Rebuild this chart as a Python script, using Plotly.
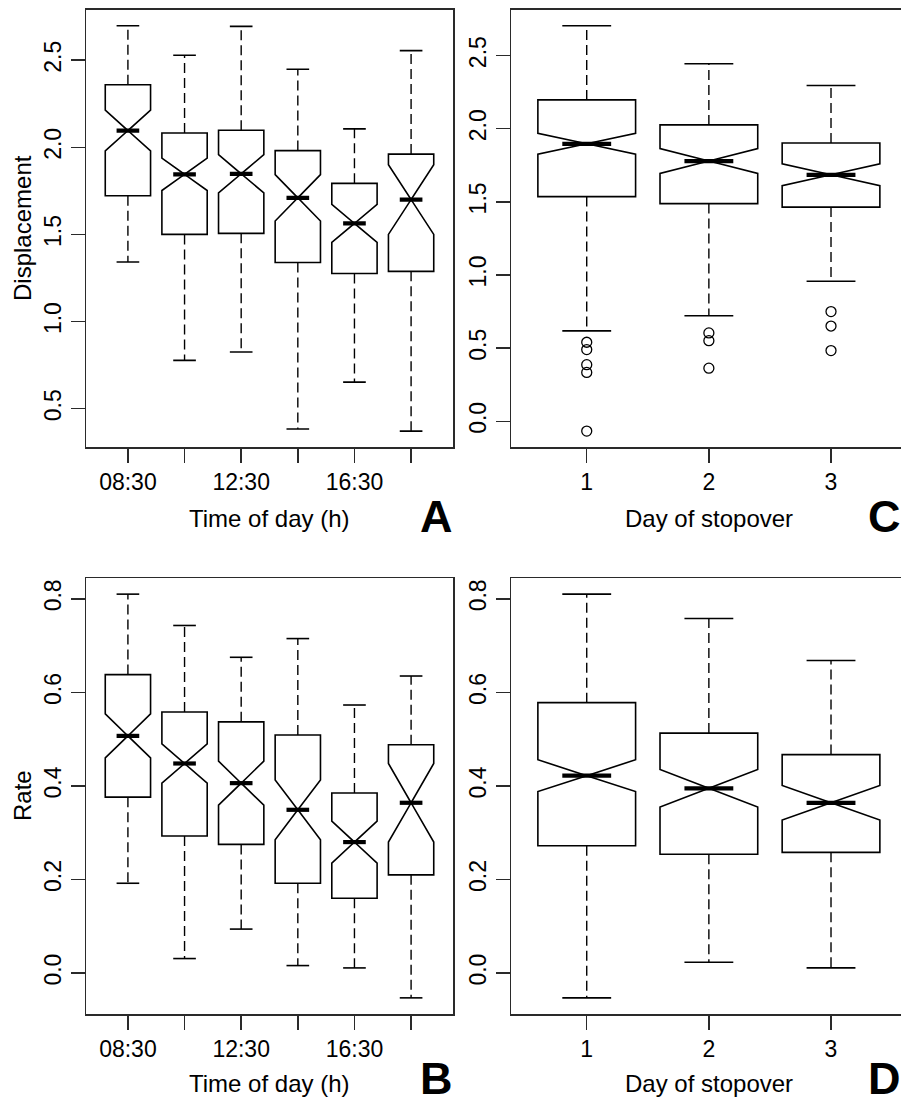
import plotly.graph_objects as go

# ---------------- data ----------------
times = ["08:30", "10:30", "12:30", "14:30", "16:30", "18:30"]
time_labels = ["08:30", "", "12:30", "", "16:30", ""]
days = ["1", "2", "3"]

# Panel A: Displacement by time of day
A_upper = [2.698, 2.528, 2.694, 2.448, 2.106, 2.555]
A_q3 = [2.359, 2.082, 2.098, 1.981, 1.793, 1.961]
A_med = [2.096, 1.845, 1.848, 1.710, 1.563, 1.700]
A_q1 = [1.722, 1.500, 1.506, 1.339, 1.276, 1.288]
A_lower = [1.342, 0.777, 0.825, 0.383, 0.652, 0.371]
A_notch = [0.117, 0.093, 0.110, 0.133, 0.109, 0.200]

# Panel C: Displacement by day of stopover
C_upper = [2.704, 2.444, 2.295]
C_q3 = [2.197, 2.026, 1.902]
C_med = [1.897, 1.779, 1.685]
C_q1 = [1.536, 1.488, 1.464]
C_lower = [0.618, 0.721, 0.957]
C_notch = [0.071, 0.085, 0.075]
C_outliers = [[0.540, 0.490, 0.387, 0.334, -0.067],
              [0.604, 0.551, 0.363],
              [0.750, 0.651, 0.483]]

# Panel B: Rate by time of day
B_upper = [0.810, 0.743, 0.675, 0.715, 0.573, 0.635]
B_q3 = [0.638, 0.558, 0.537, 0.509, 0.385, 0.488]
B_med = [0.507, 0.448, 0.406, 0.349, 0.280, 0.364]
B_q1 = [0.376, 0.293, 0.275, 0.192, 0.160, 0.210]
B_lower = [0.192, 0.031, 0.094, 0.016, 0.011, -0.053]
B_notch = [0.047, 0.042, 0.047, 0.064, 0.045, 0.084]

# Panel D: Rate by day of stopover
D_upper = [0.810, 0.758, 0.668]
D_q3 = [0.578, 0.513, 0.467]
D_med = [0.422, 0.395, 0.364]
D_q1 = [0.272, 0.254, 0.258]
D_lower = [-0.053, 0.023, 0.011]
D_notch = [0.034, 0.040, 0.037]

# ---------------- styling ----------------
W, H = 901, 1104
FONT = "Liberation Sans, Arial, Helvetica, sans-serif"
INK = "black"
FRAME = "#2a2a2a"
BOXW = 0.8
HALF_CAP = BOXW / 4  # staple = half the box width

fig = go.Figure()


def add_panel(xa, ya, upper, q3, med, q1, lower, notch, outliers=None):
    n = len(med)
    pos = list(range(1, n + 1))
    # dashed whiskers
    wx, wy = [], []
    for i in range(n):
        wx += [pos[i], pos[i], None, pos[i], pos[i], None]
        wy += [q3[i], upper[i], None, q1[i], lower[i], None]
    fig.add_trace(go.Scatter(x=wx, y=wy, mode="lines", xaxis=xa, yaxis=ya,
                             line=dict(color=INK, width=1.4, dash="10px,5px"),
                             hoverinfo="skip", showlegend=False))
    # whisker staples
    sx, sy = [], []
    for i in range(n):
        sx += [pos[i] - HALF_CAP, pos[i] + HALF_CAP, None,
               pos[i] - HALF_CAP, pos[i] + HALF_CAP, None]
        sy += [upper[i], upper[i], None, lower[i], lower[i], None]
    fig.add_trace(go.Scatter(x=sx, y=sy, mode="lines", xaxis=xa, yaxis=ya,
                             line=dict(color=INK, width=1.6),
                             hoverinfo="skip", showlegend=False))
    # notched boxes
    fig.add_trace(go.Box(x=pos, q1=q1, median=med, q3=q3,
                         lowerfence=q1, upperfence=q3, notchspan=notch,
                         notched=True, notchwidth=0.5, width=BOXW,
                         whiskerwidth=0, boxpoints=False,
                         fillcolor="white", line=dict(color=INK, width=1.6),
                         xaxis=xa, yaxis=ya, showlegend=False, hoverinfo="skip"))
    # thick medians
    mx, my = [], []
    for i in range(n):
        mx += [pos[i] - HALF_CAP, pos[i] + HALF_CAP, None]
        my += [med[i], med[i], None]
    fig.add_trace(go.Scatter(x=mx, y=my, mode="lines", xaxis=xa, yaxis=ya,
                             line=dict(color=INK, width=4.2),
                             hoverinfo="skip", showlegend=False))
    if outliers:
        ox, oy = [], []
        for i, vals in enumerate(outliers):
            for v in vals:
                ox.append(pos[i])
                oy.append(v)
        fig.add_trace(go.Scatter(x=ox, y=oy, mode="markers", xaxis=xa, yaxis=ya,
                                 marker=dict(symbol="circle-open", size=10,
                                             color=INK, line=dict(width=1.3)),
                                 hoverinfo="skip", showlegend=False))


add_panel("x", "y", A_upper, A_q3, A_med, A_q1, A_lower, A_notch)
add_panel("x2", "y2", C_upper, C_q3, C_med, C_q1, C_lower, C_notch, C_outliers)
add_panel("x3", "y3", B_upper, B_q3, B_med, B_q1, B_lower, B_notch)
add_panel("x4", "y4", D_upper, D_q3, D_med, D_q1, D_lower, D_notch)


def px_x(v):
    return v / W


def px_y(v):
    return 1 - v / H


tickfont = dict(family=FONT, size=23, color=INK)


def xax(domain, rng, labels):
    return dict(domain=domain, range=rng, tickvals=list(range(1, len(labels) + 1)),
                ticktext=labels, ticks="outside", ticklen=14, tickwidth=1.5,
                tickcolor=FRAME, showline=True, linecolor=FRAME, linewidth=1.5,
                mirror=True, showgrid=False, zeroline=False, tickfont=tickfont,
                fixedrange=True)


def yax(domain, rng, tvals, mirror):
    return dict(domain=domain, range=rng, tickvals=tvals, tickformat=".1f",
                ticks="outside", ticklen=14, tickwidth=1.5, tickcolor=FRAME,
                showline=True, linecolor=FRAME, linewidth=1.5, mirror=mirror,
                showgrid=False, zeroline=False, tickangle=-90, tickfont=tickfont,
                fixedrange=True)


top_dom = [px_y(447.3), px_y(9.5)]
bot_dom = [px_y(1014.0), px_y(578.0)]
left_dom = [px_x(86), px_x(453)]
right_dom = [px_x(511), 1.0]

fig.update_layout(
    width=W, height=H, margin=dict(l=0, r=0, t=0, b=0),
    paper_bgcolor="white", plot_bgcolor="white", showlegend=False,
    template="none",
    xaxis=xax(left_dom, [0.26, 6.74], time_labels),
    yaxis=yax(top_dom, [0.278, 2.791], [0.5, 1.0, 1.5, 2.0, 2.5], True),
    xaxis2=xax(right_dom, [0.38, 3.573], days),
    yaxis2=yax(top_dom, [-0.178, 2.815], [0.0, 0.5, 1.0, 1.5, 2.0, 2.5], False),
    xaxis3=xax(left_dom, [0.26, 6.74], time_labels),
    yaxis3=yax(bot_dom, [-0.0875, 0.8445], [0.0, 0.2, 0.4, 0.6, 0.8], True),
    xaxis4=xax(right_dom, [0.38, 3.573], days),
    yaxis4=yax(bot_dom, [-0.0875, 0.8445], [0.0, 0.2, 0.4, 0.6, 0.8], False),
)
fig.update_layout(xaxis2_anchor="y2", yaxis2_anchor="x2",
                  xaxis3_anchor="y3", yaxis3_anchor="x3",
                  xaxis4_anchor="y4", yaxis4_anchor="x4")

titlefont = dict(family=FONT, size=24, color=INK)
letterfont = dict(family=FONT, size=45, color=INK)
ann = []
ann.append(dict(text="Displacement", x=px_x(22), y=px_y(228.0), textangle=-90))
ann.append(dict(text="Rate", x=px_x(22), y=px_y(796.0), textangle=-90))
ann.append(dict(text="Time of day (h)", x=px_x(269.5), y=px_y(518)))
ann.append(dict(text="Day of stopover", x=px_x(709), y=px_y(518)))
ann.append(dict(text="Time of day (h)", x=px_x(269.5), y=px_y(1083)))
ann.append(dict(text="Day of stopover", x=px_x(709), y=px_y(1083)))
for a in ann:
    a.update(xref="paper", yref="paper", showarrow=False, font=titlefont,
             xanchor="center", yanchor="middle")
letters = [("A", 436, 516.5), ("C", 884, 516.5), ("B", 436, 1078), ("D", 884, 1078)]
for t, lx, ly in letters:
    ann.append(dict(text="<b>%s</b>" % t, x=px_x(lx), y=px_y(ly), xref="paper",
                    yref="paper", showarrow=False, font=letterfont,
                    xanchor="center", yanchor="middle"))
fig.update_layout(annotations=ann)

# remove the default page margin so the figure fills the window exactly
fig.write_html("out.html",
               config={"displayModeBar": False, "staticPlot": True},
               post_script="document.body.style.margin='0';"
                           "document.body.style.overflow='hidden';")
